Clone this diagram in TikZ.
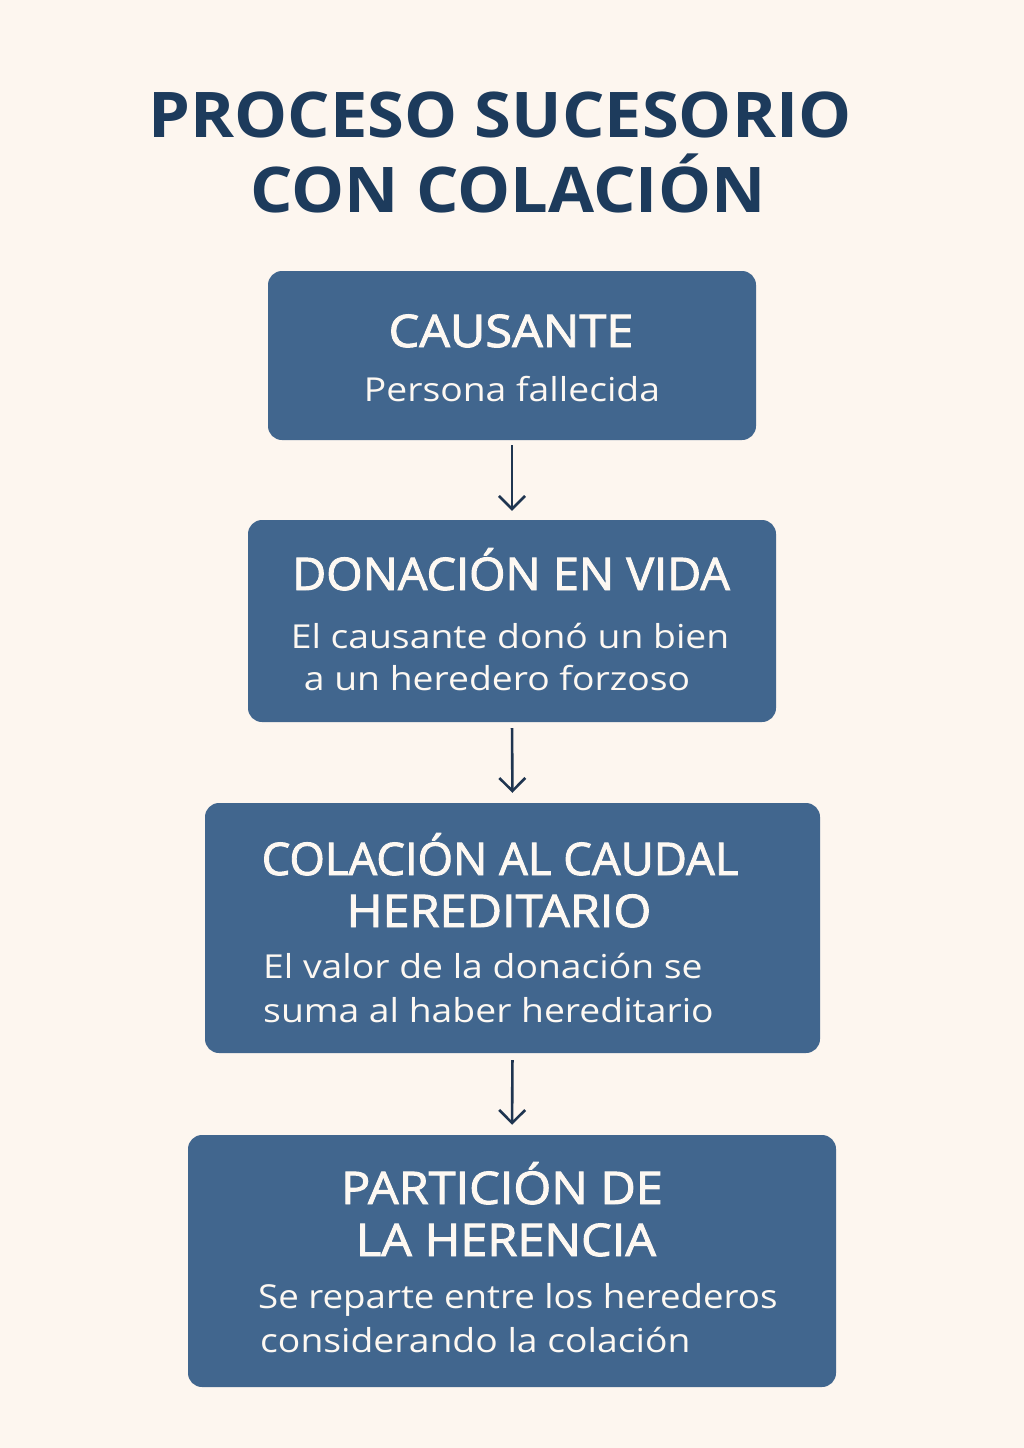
\documentclass[tikz,border=0pt]{standalone}
\usepackage{fontspec}
\setmainfont{Open Sans}
\newfontfamily\headfont{Open Sans}[FakeBold=2]
\usepackage{tikz}
\usetikzlibrary{arrows.meta, positioning}

\definecolor{paper}{HTML}{FDF6EF}
\definecolor{stageblue}{HTML}{41668E}
\definecolor{inkblue}{HTML}{1D3B5C}
\definecolor{arrowblue}{HTML}{1F3550}
\definecolor{lighttext}{HTML}{FDF8F2}

\tikzset{
  stage/.style={fill=stageblue, rounded corners=14pt, inner sep=0pt},
  maintitle/.style={text=inkblue, font=\fontsize{63}{70}\selectfont\bfseries, anchor=base, inner sep=0pt, xscale=1.06},
  headtext/.style={text=lighttext, font=\headfont\fontsize{45}{50}\selectfont, anchor=base, inner sep=0pt, xscale=1.08},
  bodytext/.style={text=lighttext, font=\fontsize{33}{40}\selectfont, anchor=base, inner sep=0pt, xscale=1.13},
  flow/.style={draw=arrowblue, line width=2.6pt, -{Straight Barb[length=13pt,width=26pt]}}
}

\begin{document}
\begin{tikzpicture}[x=1pt, y=-1pt]
                % Page
                \useasboundingbox (0,0) rectangle (1024,1448);
                \fill[paper] (0,0) rectangle (1024,1448);
                % Title
                \node[maintitle] (title1) at (500,137) {PROCESO SUCESORIO};
                \node[maintitle] (title2) at (508,212) {CON COLACIÓN};
                % Stages
                \node[stage, minimum width=488pt, minimum height=169pt] (causante) at (512,355.5) {};
                \node[stage, minimum width=528pt, minimum height=202pt] (donacion) at (512,621) {};
                \node[stage, minimum width=615pt, minimum height=250pt] (colacion) at (512.5,928) {};
                \node[stage, minimum width=648pt, minimum height=252pt] (particion) at (512,1261) {};
                % Arrows
                \draw[flow, shorten <=5pt, shorten >=9pt] (causante.south) -- (donacion.north);
                \draw[flow, shorten <=6pt, shorten >=10pt] (donacion.south) -- (colacion.north);
                \draw[flow, shorten <=7pt, shorten >=10pt] (colacion.south) -- (particion.north);
                % Texts of stage 1
                \node[headtext] (causante-h) at (511,347) {CAUSANTE};
                \node[bodytext] (causante-b) at (512,401) {Persona fallecida};
                % Texts of stage 2
                \node[headtext, xscale=0.962] (donacion-h) at (511,590) {DONACIÓN EN VIDA};
                \node[bodytext] (donacion-b1) at (510,648) {El causante donó un bien};
                \node[bodytext] (donacion-b2) at (497,690) {a un heredero forzoso};
                % Texts of stage 3
                \node[headtext, xscale=0.935] (colacion-h1) at (500,875) {COLACIÓN AL CAUDAL};
                \node[headtext] (colacion-h2) at (499,927) {HEREDITARIO};
                \node[bodytext, anchor=base west] (colacion-b1) at (263,978) {El valor de la donación se};
                \node[bodytext, anchor=base west] (colacion-b2) at (263,1022) {suma al haber hereditario};
                % Texts of stage 4
                \node[headtext] (particion-h1) at (502,1204) {PARTICIÓN DE};
                \node[headtext] (particion-h2) at (506,1256) {LA HERENCIA};
                \node[bodytext, anchor=base west, xscale=0.983] (particion-b1) at (258,1308) {Se reparte entre los herederos};
                \node[bodytext, anchor=base west] (particion-b2) at (260,1352) {considerando la colación};
            \end{tikzpicture}
\end{document}
